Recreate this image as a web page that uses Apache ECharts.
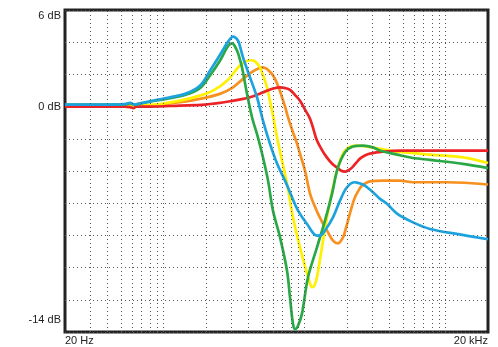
<!DOCTYPE html>
<html>
<head>
<meta charset="utf-8">
<style>
html,body{margin:0;padding:0;background:#fff;}
#chart{width:498px;height:347px;}
</style>
<script src="https://cdn.jsdelivr.net/npm/echarts@6/dist/echarts.min.js"></script>
</head>
<body>
<div id="chart"></div>
<script>
// Frequency (Hz) / level (dB) pairs
const redData = [[20,0],[35,0],[53,0],[58,-0.03],[61,-0.1],[64,0],[80,0],[131,0.06],[197,0.12],[296,0.33],[410,0.58],[524,0.93],[600,1.12],[670,1.2],[730,1.15],[788,1.04],[860,0.7],[928,0.37],[1010,-0.2],[1093,-0.75],[1160,-1.45],[1225,-2.11],[1330,-2.7],[1443,-3.17],[1570,-3.55],[1699,-3.79],[1820,-3.98],[1936,-4.04],[2050,-3.95],[2170,-3.79],[2320,-3.5],[2473,-3.23],[2700,-3.02],[2912,-2.92],[3600,-2.8],[4753,-2.73],[7759,-2.73],[20000,-2.73]];
const orangeData = [[20,0],[35,0],[53,0.02],[80,0.05],[94,0.12],[131,0.27],[181,0.48],[251,0.79],[311,1.2],[366,1.72],[431,2.19],[470,2.36],[499,2.44],[530,2.38],[551,2.28],[585,2.05],[617,1.72],[655,1.2],[692,0.58],[730,-0.05],[763,-0.66],[820,-1.5],[884,-2.3],[945,-3.15],[1007,-3.98],[1093,-5.4],[1170,-6.1],[1245,-6.65],[1340,-7.2],[1443,-7.7],[1591,-8.32],[1727,-8.49],[1874,-8.12],[1950,-7.65],[2033,-7.08],[2150,-6.3],[2278,-5.63],[2420,-5.2],[2555,-4.91],[2912,-4.64],[3600,-4.6],[4753,-4.6],[5877,-4.7],[10240,-4.7],[20000,-4.84]];
const yellowData = [[20,0],[53,0.02],[80,0.1],[94,0.15],[131,0.37],[181,0.68],[224,0.99],[282,1.61],[348,2.55],[397,2.86],[420,2.88],[445,2.81],[483,2.44],[510,1.9],[542,1.2],[565,0.45],[588,-0.25],[638,-1.91],[692,-3.35],[751,-4.78],[828,-6.88],[928,-8.74],[1041,-10.37],[1090,-10.95],[1129,-11.22],[1175,-11.1],[1225,-10.6],[1275,-9.7],[1329,-8.74],[1443,-6.88],[1591,-5.01],[1784,-3.35],[2000,-2.61],[2354,-2.42],[3058,-2.55],[4036,-2.73],[4527,-2.8],[7759,-2.98],[13295,-3.15],[20000,-3.5]];
const greenData = [[20,0.12],[35,0.12],[53,0.14],[58,0.2],[62,0.12],[68,0.18],[80,0.3],[111,0.52],[142,0.72],[181,1.15],[214,1.95],[251,2.85],[286,3.75],[306,3.93],[332,3.48],[346,3.0],[360,2.44],[391,0.79],[424,-0.66],[467,-1.91],[507,-3.15],[551,-4.6],[597,-6.46],[670,-8.12],[751,-10.19],[788,-11.84],[828,-13.5],[860,-13.82],[900,-13.6],[959,-12.86],[1058,-10.6],[1225,-8.74],[1396,-7.08],[1566,-5.42],[1710,-3.9],[1936,-2.84],[2205,-2.48],[2597,-2.42],[3058,-2.53],[3428,-2.73],[4527,-2.98],[5877,-3.19],[7759,-3.31],[13295,-3.56],[20000,-3.82]];
const blueData = [[20,0.12],[35,0.12],[53,0.15],[58,0.24],[62,0.13],[68,0.2],[80,0.33],[111,0.58],[142,0.79],[181,1.3],[214,2.24],[251,3.2],[286,4.02],[311,4.35],[337,4.1],[352,3.6],[366,3.06],[410,1.82],[460,0.58],[507,-0.87],[569,-2.32],[638,-3.54],[727,-4.6],[815,-5.63],[899,-6.46],[1041,-7.29],[1225,-8.01],[1300,-8.0],[1396,-7.7],[1591,-6.88],[1784,-5.84],[2000,-5.01],[2278,-4.7],[2354,-4.72],[2597,-4.84],[2773,-5.01],[3058,-5.32],[3428,-5.73],[3844,-6.04],[4527,-6.65],[5877,-7.19],[7759,-7.6],[12050,-7.91],[20000,-8.24]];

const gridFreqs = [30,40,50,60,70,80,90,100,200,300,400,500,600,700,800,900,1000,2000,3000,4000,5000,6000,7000,8000,9000,10000];
const yLabelValues = [6, 0, -14];
const xLabelValues = [20, 20000];

const chart = echarts.init(document.getElementById('chart'), null, {renderer:'canvas'});
const lineSeries = (name, data, color) => ({
  name, type:'line', data, showSymbol:false, smooth:0.35,
  lineStyle:{color, width:2.7}, itemStyle:{color}, silent:true, animation:false
});
chart.setOption({
  animation:false,
  backgroundColor:'#fff',
  grid:{left:65, top:10, width:423, height:322, show:true, borderColor:'#222', borderWidth:3, backgroundColor:'#fff', containLabel:false},
  xAxis:{
    type:'log', logBase:10, min:20, max:20000,
    axisLine:{show:false}, axisTick:{show:false}, splitLine:{show:false},
    axisLabel:{
      customValues: xLabelValues,
      formatter:v => v >= 10000 ? (v/1000)+' kHz' : v+' Hz',
      fontFamily:'Liberation Sans, Arial, sans-serif', fontSize:11, color:'#222', margin:3,
      alignMinLabel:'left', alignMaxLabel:'right'
    }
  },
  yAxis:{
    type:'value', min:-14, max:6, interval:2,
    axisLine:{show:false}, axisTick:{show:false},
    splitLine:{show:true, lineStyle:{type:[1,3], color:'#555', width:1}},
    axisLabel:{
      formatter:v => v === -14 ? '{lo|' + v + ' dB}' : (yLabelValues.includes(v) ? v+' dB' : ''),
      rich:{lo:{fontFamily:'Liberation Sans, Arial, sans-serif', fontSize:11, color:'#222', padding:[0,0,7,0]}},
      fontFamily:'Liberation Sans, Arial, sans-serif', fontSize:11, color:'#222', margin:4,
      verticalAlignMinLabel:'bottom', verticalAlignMaxLabel:'top'
    }
  },
  series:[
    {type:'line', data:[], silent:true,
     markLine:{silent:true, symbol:'none', label:{show:false}, animation:false,
       lineStyle:{type:[1,3], color:'#555', width:1},
       data: gridFreqs.map(f => ({xAxis:f}))}},
    lineSeries('orange', orangeData, '#f7901e'),
    lineSeries('yellow', yellowData, '#fff000'),
    lineSeries('red', redData, '#ec2227'),
    lineSeries('green', greenData, '#2aa845'),
    lineSeries('blue', blueData, '#1ca3de')
  ]
});
</script>
</body>
</html>
